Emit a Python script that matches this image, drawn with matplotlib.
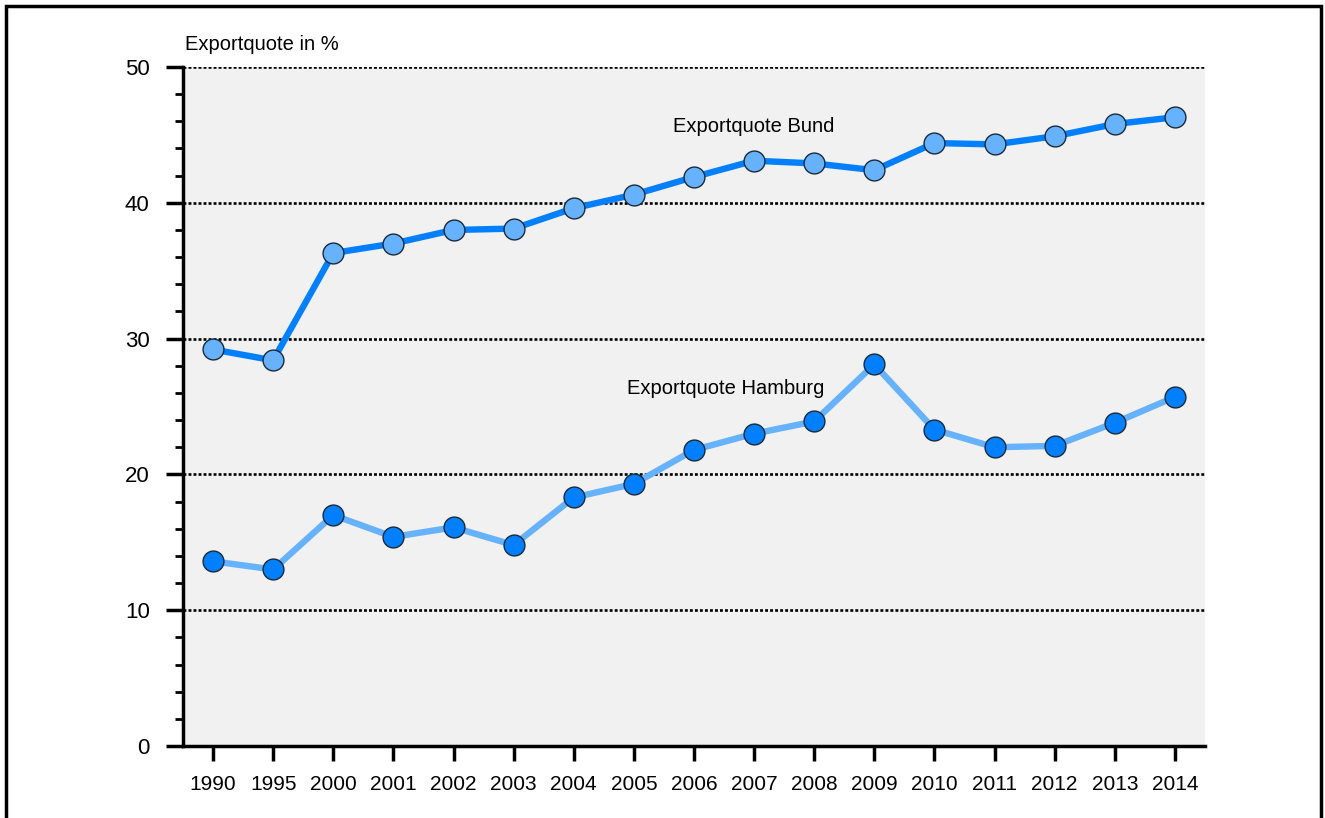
import numpy as np
import matplotlib
matplotlib.use("Agg")
import matplotlib.pyplot as plt
from matplotlib.patches import Rectangle

plt.rcParams["font.family"] = ["Liberation Sans", "DejaVu Sans"]

years = ["1990", "1995", "2000", "2001", "2002", "2003", "2004", "2005", "2006",
         "2007", "2008", "2009", "2010", "2011", "2012", "2013", "2014"]
bund = [29.2, 28.4, 36.3, 37.0, 38.0, 38.1, 39.6, 40.6, 41.9,
        43.1, 42.9, 42.4, 44.4, 44.3, 44.9, 45.8, 46.3]
hamburg = [13.6, 13.0, 17.0, 15.4, 16.1, 14.8, 18.3, 19.3, 21.8,
           23.0, 23.9, 28.1, 23.3, 22.0, 22.1, 23.8, 25.7]

dark_blue = "#0080FF"
light_blue = "#66B2FF"

fig = plt.figure(figsize=(13.25, 8.18), dpi=100)
ax = fig.add_axes([0.1381, 0.0880, 0.7713, 0.8301])
ax.set_facecolor("#F1F1F1")

x = np.arange(len(years))

# Gridlines (dotted)
for v in range(0, 51, 10):
    ax.axhline(v, color="black", lw=1.9, ls=(0, (1.1, 0.8)), zorder=1)

ax.plot(x, bund, "-", color=dark_blue, lw=4.6, zorder=3,
        marker="o", ms=15, mfc=light_blue, mec="#1a2a3a", mew=1.0)
ax.plot(x, hamburg, "-", color=light_blue, lw=4.6, zorder=3,
        marker="o", ms=15, mfc=dark_blue, mec="#1a2a3a", mew=1.0)

ax.text(9.0, 45.6, "Exportquote Bund", fontsize=14.5, ha="center", va="center")
ax.text(8.52, 26.3, "Exportquote Hamburg", fontsize=14.5, ha="center", va="center")

ax.set_xlim(-0.5, 16.5)
ax.set_ylim(0, 50)
ax.set_xticks(x)
ax.set_xticklabels(years)
ax.set_yticks(range(0, 51, 10))
ax.set_yticks(range(0, 51, 2), minor=True)

for side in ["top", "right"]:
    ax.spines[side].set_visible(False)
for side in ["left", "bottom"]:
    ax.spines[side].set_linewidth(2.5)
    ax.spines[side].set_zorder(4)

ax.tick_params(axis="y", which="major", length=12, width=2.5, labelsize=16, pad=12)
ax.tick_params(axis="y", which="minor", length=6, width=2)
ax.tick_params(axis="x", which="major", length=11, width=2.5, labelsize=15, pad=10)

fig.text(0.1396, 0.946, "Exportquote in %", fontsize=14.5, ha="left", va="center")

# Frame around the figure
fig.patches.append(Rectangle((0.0045, -0.05), 0.9925, 1.043, transform=fig.transFigure,
                             fill=False, edgecolor="black", lw=2.5))

plt.savefig("out.png", dpi=100)
plt.close()
